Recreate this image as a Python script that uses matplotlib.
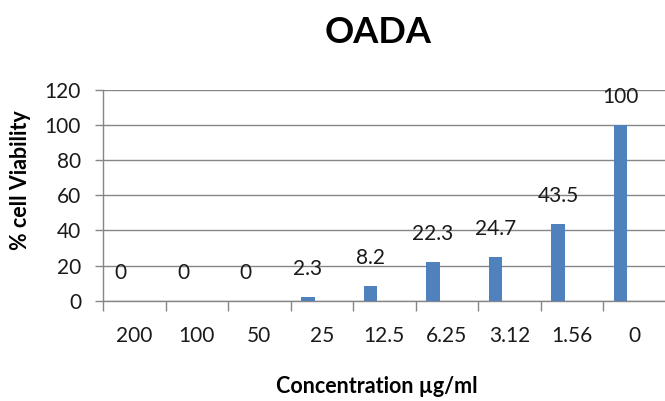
import numpy as np
import matplotlib
matplotlib.use("Agg")
import matplotlib.pyplot as plt

# values
concentrations = ["200", "100", "50", "25", "12.5", "6.25", "3.12", "1.56", "0"]
viability = [0, 0, 0, 2.3, 8.2, 22.3, 24.7, 43.5, 100]
value_labels = ["0", "0", "0", "2.3", "8.2", "22.3", "24.7", "43.5", "100"]

plt.rcParams['font.family'] = ['Lato', 'DejaVu Sans']

grey = '#868686'
bar_color = '#4F81BD'

fig = plt.figure(figsize=(6.65, 4.01), dpi=100)
ax = fig.add_axes([0.155, 0.25, 0.846, 0.5256])

x = np.arange(len(concentrations))
w = 1 / 4.5  # excel style gap, bar sits left of category centre
ax.bar(x - w, viability, width=w, color=bar_color, zorder=3)

for xi, v, lab in zip(x, viability, value_labels):
    ax.annotate(lab, (xi - w, v), xytext=(0, 13), textcoords='offset points',
                ha='center', va='bottom', fontsize=15, color='#1a1a1a')

ax.set_xlim(-0.5, len(concentrations) - 0.5)
ax.set_ylim(0, 120)
ax.set_yticks(np.arange(0, 121, 20))
ax.set_xticks(x)
ax.set_xticklabels(concentrations)
ax.set_xticks(np.arange(-0.5, len(concentrations)), minor=True)

ax.yaxis.grid(True, color=grey, linewidth=1, zorder=0)
for s in ['top', 'right']:
    ax.spines[s].set_visible(False)
for s in ['left', 'bottom']:
    ax.spines[s].set_color(grey)
    ax.spines[s].set_linewidth(1)

ax.tick_params(axis='y', direction='out', length=5.8, width=1, color=grey,
               pad=10, labelsize=15, labelcolor='#1a1a1a')
ax.tick_params(axis='x', which='major', length=0, pad=18, labelsize=15,
               labelcolor='#1a1a1a')
ax.tick_params(axis='x', which='minor', direction='out', length=7.2, width=1,
               color=grey)

fig.text(0.569, 0.92, "OADA", ha='center', va='center', fontsize=26,
         fontweight='bold')
fig.text(0.566, 0.037, "Concentration µg/ml", ha='center', va='center',
         fontsize=15.5, fontweight='bold')
fig.text(0.031, 0.551, "% cell Viability", ha='center', va='center',
         rotation=90, fontsize=15.5, fontweight='bold')

fig.savefig("out.png", dpi=100)
